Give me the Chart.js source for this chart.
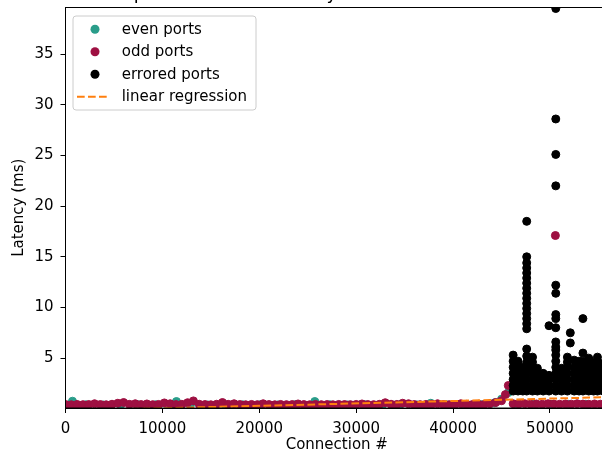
<!DOCTYPE html>
<html>
<head>
<meta charset="utf-8">
<script src="https://cdn.jsdelivr.net/npm/chart.js@4.4.1/dist/chart.umd.min.js"></script>
<style>
    html, body { margin: 0; padding: 0; background: #fff; overflow: hidden; }
    #wrap { position: absolute; left: 0; top: -30px; width: 640px; height: 486px; }
</style>
</head>
<body>
<div id="wrap"><canvas id="latencyChart" width="640" height="486"></canvas></div>
<script>
// Connection # / latency (ms)
const evenConn = [300, 720, 2100, 3900, 5700, 7500, 9300, 11100, 11450, 12900, 14700, 16500, 18300, 20100,
    21900, 23700, 25500, 25730, 27300, 29100, 30900, 32700, 34500, 36300, 37700, 39300, 41100, 42900,
    44300, 45000, 45700, 46500, 48300, 50100, 51900, 53700, 55500];
const evenLatency = [0.38, 0.75, 0.4, 0.38, 0.4, 0.39, 0.4, 0.38, 0.72, 0.4, 0.38, 0.4, 0.39, 0.4,
    0.38, 0.4, 0.39, 0.72, 0.4, 0.38, 0.4, 0.39, 0.4, 0.38, 0.55, 0.4, 0.39, 0.4,
    0.6, 0.95, 1.6, 0.45, 0.44, 0.45, 0.44, 0.45, 0.44];

const oddConn = [0, 600, 1200, 1800, 2400, 3000, 3600, 4200, 4800, 5400, 6000, 6600, 7200, 7800, 8400,
    9000, 9600, 10200, 10800, 11400, 12000, 12600, 13200, 13800, 14400, 15000, 15600, 16200, 16800,
    17400, 18000, 18600, 19200, 19800, 20400, 21000, 21600, 22200, 22800, 23400, 24000, 24600, 25200,
    25800, 26400, 27000, 27600, 28200, 28800, 29400, 30000, 30600, 31200, 31800, 32400, 33000, 33600,
    34200, 34800, 35400, 36000, 36600, 37200, 37800, 38400, 39000, 39600, 40200, 40800, 41400, 42000,
    42600, 43200, 43800, 44400, 45000, 45400, 45700, 46200, 46800, 47400, 48000, 48600, 49200, 49800,
    50400, 51000, 51600, 52200, 52800, 53400, 54000, 54600, 55200, 55800, 50560];
const oddLatency = [0.42, 0.4, 0.43, 0.41, 0.42, 0.5, 0.42, 0.4, 0.45, 0.55, 0.62, 0.44, 0.5, 0.42, 0.48,
    0.41, 0.43, 0.58, 0.5, 0.42, 0.44, 0.6, 0.78, 0.45, 0.42, 0.4, 0.45, 0.62, 0.44,
    0.5, 0.42, 0.4, 0.43, 0.41, 0.5, 0.42, 0.4, 0.43, 0.41, 0.42, 0.48, 0.42, 0.4,
    0.43, 0.41, 0.42, 0.4, 0.43, 0.42, 0.41, 0.43, 0.48, 0.42, 0.41, 0.44, 0.6, 0.45,
    0.43, 0.55, 0.5, 0.42, 0.41, 0.43, 0.45, 0.5, 0.42, 0.41, 0.43, 0.5, 0.44, 0.42,
    0.45, 0.43, 0.5, 0.62, 0.8, 1.4, 2.3, 0.5, 0.48, 0.5, 0.46, 0.48, 0.45, 0.5,
    0.47, 0.45, 0.48, 0.46, 0.5, 0.47, 0.45, 0.48, 0.46, 0.45, 17.1];

// errored connections, one column of latencies per connection #
const errConn = [46200, 46700, 47200, 47600, 48200, 48700, 49300, 49900, 50600, 51200, 51800, 52100,
    52500, 53000, 53400, 54000, 54500, 54900, 55500];
const errLatency = [
    [1.75, 2.3, 2.9, 3.5, 4.1, 4.7, 5.3],
    [1.75, 2.3, 2.9, 3.5, 4.1, 4.7],
    [1.75, 2.3, 2.9, 3.5, 4.1],
    [1.75, 2.3, 2.9, 3.5, 4.1, 4.6, 5.2, 5.9, 7.9, 8.4, 8.9, 9.4, 9.9, 10.4, 10.9, 11.4, 11.9, 12.4, 12.9, 13.4, 13.9, 14.4, 15.0, 18.5],
    [1.75, 2.3, 2.9, 3.5, 4.1, 4.6, 5.1],
    [1.75, 2.3, 2.9, 3.5, 4.0],
    [1.75, 2.3, 2.9, 3.5],
    [1.75, 2.3, 2.9, 3.3, 8.2],
    [1.75, 2.3, 2.9, 3.5, 4.1, 4.7, 5.3, 5.8, 6.1, 6.6, 8.0, 8.9, 9.3, 11.4, 12.2, 22.0, 25.1, 28.6, 39.5],
    [1.75, 2.3, 2.9, 3.5, 4.0],
    [1.75, 2.3, 2.9, 3.5, 4.1, 4.6, 5.1],
    [6.5, 7.5],
    [1.75, 2.3, 2.9, 3.5, 4.1, 4.8],
    [1.75, 2.3, 2.9, 3.5, 4.1, 4.7],
    [1.75, 2.3, 2.9, 3.5, 4.1, 4.7, 5.5, 8.9],
    [1.75, 2.3, 2.9, 3.5, 4.1, 4.6, 5.0],
    [1.75, 2.3, 2.9, 3.5, 4.1, 4.6],
    [1.75, 2.3, 2.9, 3.5, 4.1, 4.6, 5.1],
    [1.75, 2.3, 2.9, 3.5, 4.1, 4.5]
];

// end points of the fitted line
const fitConn = [0, 56000];
const fitLatency = [-0.18, 1.15];

const xTicks = [0, 10000, 20000, 30000, 40000, 50000];
const yTicks = [5, 10, 15, 20, 25, 30, 35];

const TEAL = '#2a9d8a';
const MAROON = '#9e1042';
const ORANGE = '#ff7f0e';
const FONT = 'DejaVu Sans';

function toPoints(xs, ys) {
    return xs.map((x, i) => ({ x: x, y: ys[i] }));
}

// matplotlib-like frame, title and legend box
const decorations = {
    id: 'decorations',
    afterDraw(chart) {
        const ctx = chart.ctx;
        const area = chart.chartArea;
        ctx.save();
        ctx.strokeStyle = '#000';
        ctx.lineWidth = 1;
        ctx.strokeRect(area.left, area.top, area.right - area.left, area.bottom - area.top);

        ctx.fillStyle = '#000';
        ctx.font = '18px "' + FONT + '"';
        ctx.textAlign = 'center';
        ctx.textBaseline = 'alphabetic';
        ctx.fillText('Loopback connect latency over all local connections', (area.left + area.right) / 2, 29);

        // legend
        const lx = 73, ly = 46, lw = 183, lh = 94;
        ctx.beginPath();
        ctx.roundRect(lx, ly, lw, lh, 3);
        ctx.fillStyle = 'rgba(255,255,255,0.8)';
        ctx.fill();
        ctx.strokeStyle = '#cccccc';
        ctx.stroke();

        const items = [
            { label: 'even ports', color: TEAL },
            { label: 'odd ports', color: MAROON },
            { label: 'errored ports', color: '#000' },
            { label: 'linear regression', color: ORANGE, dashed: true }
        ];
        ctx.font = '15px "' + FONT + '"';
        ctx.textAlign = 'left';
        ctx.textBaseline = 'middle';
        items.forEach((item, i) => {
            const y = 59.3 + i * 22.45;
            if (item.dashed) {
                ctx.save();
                ctx.strokeStyle = item.color;
                ctx.lineWidth = 2;
                ctx.setLineDash([7.7, 3.3]);
                ctx.beginPath();
                ctx.moveTo(77, y);
                ctx.lineTo(108, y);
                ctx.stroke();
                ctx.restore();
            } else {
                ctx.beginPath();
                ctx.arc(95, y, 4.5, 0, Math.PI * 2);
                ctx.fillStyle = item.color;
                ctx.fill();
            }
            ctx.fillStyle = '#000';
            ctx.fillText(item.label, 121.7, y + 0.5);
        });
        ctx.restore();
    }
};

function renderLatencyChart() {
    const errPoints = [];
    errConn.forEach((c, i) => {
        errLatency[i].forEach(v => errPoints.push({ x: c, y: v }));
    });

    const markerStyle = color => ({
        backgroundColor: color,
        borderColor: color,
        borderWidth: 1,
        pointRadius: 4,
        pointHoverRadius: 4,
        clip: 0
    });

    const ctx = document.getElementById('latencyChart').getContext('2d');
    new Chart(ctx, {
        type: 'scatter',
        data: {
            datasets: [
                Object.assign({ label: 'even ports', data: toPoints(evenConn, evenLatency), order: 4 }, markerStyle(TEAL)),
                Object.assign({ label: 'odd ports', data: toPoints(oddConn, oddLatency), order: 3 }, markerStyle(MAROON)),
                Object.assign({ label: 'errored ports', data: errPoints, order: 2 }, markerStyle('#000')),
                {
                    type: 'line',
                    label: 'linear regression',
                    data: toPoints(fitConn, fitLatency),
                    borderColor: ORANGE,
                    borderWidth: 2,
                    borderDash: [7.7, 3.3],
                    pointRadius: 0,
                    fill: false,
                    clip: 0,
                    order: 1
                }
            ]
        },
        options: {
            responsive: false,
            animation: false,
            devicePixelRatio: 1,
            events: [],
            layout: { padding: { left: 0, top: 37.5, right: 31.9, bottom: 0 } },
            plugins: {
                legend: { display: false },
                tooltip: { enabled: false }
            },
            scales: {
                x: {
                    type: 'linear',
                    min: 0,
                    max: 56000,
                    afterFit: scale => { scale.height = 48; },
                    afterBuildTicks: scale => { scale.ticks = xTicks.map(v => ({ value: v })); },
                    ticks: {
                        color: '#000',
                        font: { family: FONT, size: 15 },
                        padding: 7.5,
                        maxRotation: 0,
                        callback: value => String(value)
                    },
                    grid: { display: true, drawOnChartArea: false, drawTicks: true, tickLength: 5, tickColor: '#000' },
                    border: { display: true, color: '#000' },
                    title: {
                        display: true,
                        text: 'Connection #',
                        color: '#000',
                        font: { family: FONT, size: 15 },
                        padding: { top: 0, bottom: 2 }
                    }
                },
                y: {
                    type: 'linear',
                    min: 0.08,
                    max: 39.6,
                    afterFit: scale => { scale.width = 65.5; },
                    afterBuildTicks: scale => { scale.ticks = yTicks.map(v => ({ value: v })); },
                    ticks: {
                        color: '#000',
                        font: { family: FONT, size: 15 },
                        padding: 7,
                        callback: value => String(value)
                    },
                    grid: { display: true, drawOnChartArea: false, drawTicks: true, tickLength: 5, tickColor: '#000' },
                    border: { display: true, color: '#000' },
                    title: {
                        display: true,
                        text: 'Latency (ms)',
                        color: '#000',
                        font: { family: FONT, size: 15 },
                        padding: { top: 10.5, bottom: 0 }
                    }
                }
            }
        },
        plugins: [decorations]
    });
}

document.addEventListener('DOMContentLoaded', renderLatencyChart);
</script>
</body>
</html>
